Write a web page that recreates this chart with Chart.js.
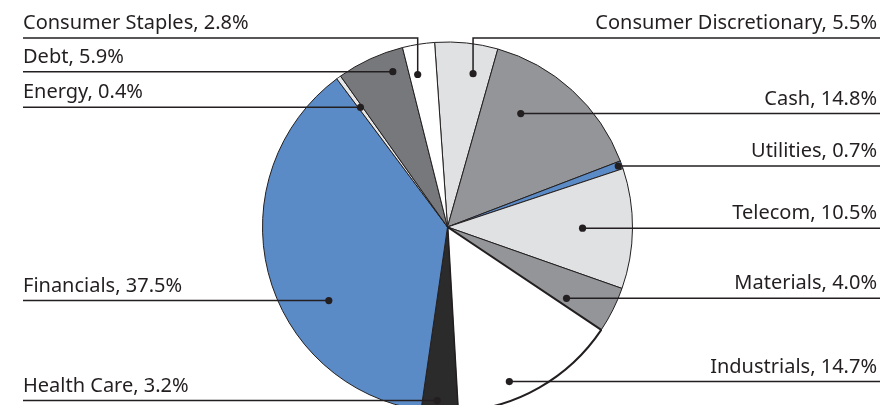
<!DOCTYPE html>
<html>
<head>
<meta charset="utf-8">
<script src="https://cdn.jsdelivr.net/npm/chart.js@4"></script>
<style>
  html, body { margin: 0; padding: 0; background: #ffffff; }
  #wrap { width: 883px; height: 405px; overflow: hidden; position: relative; }
  #c { display: block; }
</style>
</head>
<body>
<div id="wrap"><canvas id="c" width="883" height="420"></canvas></div>
<script>
// ---- data ----
const categories = ["Consumer Discretionary", "Cash", "Utilities", "Telecom", "Materials", "Industrials", "Health Care", "Financials", "Energy", "Debt", "Consumer Staples"];
const weights = [5.5, 14.8, 0.7, 10.5, 4.0, 14.7, 3.2, 37.5, 0.4, 5.9, 2.8];

// ---- styling ----
const sliceColors = ["#e0e1e3", "#939598", "#5b8bc7", "#e0e1e3", "#939598", "#ffffff", "#2c2b2c", "#5b8bc7", "#e6e7e8", "#77787b", "#ffffff"];
const sliceBorders = [1, 1, 1, 1, 1, 2, 1, 1, 1, 1, 1];
// label layout: side, relative angle inside slice (t), radius fraction (rf), optional elbow y for vertical leader
const labelSide = ["right", "right", "right", "right", "right", "right", "left", "left", "left", "left", "left"];
const dotT  = [0.68, 0.32, 0.5, 0.5, 0.8, 0.65, 0.58, 0.37, 0.5, 0.75, 0.3];
const dotRF = [0.84, 0.73, 0.98, 0.73, 0.75, 0.9, 0.94, 0.755, 0.8, 0.89, 0.84];
const elbowY = [38, null, null, null, null, null, null, null, null, null, 38];

const INK = "#231f20";
const FONT = '20px "Noto Sans"';
const LEFT_X = 23, RIGHT_X = 880;

const labelPlugin = {
  id: 'leaders',
  afterDatasetsDraw(chart) {
    const ctx = chart.ctx;
    const meta = chart.getDatasetMeta(0);
    ctx.save();
    ctx.strokeStyle = INK;
    ctx.fillStyle = INK;
    ctx.lineWidth = 1.5;
    ctx.font = FONT;
    meta.data.forEach((arc, i) => {
      const p = arc.getProps(['x', 'y', 'startAngle', 'endAngle', 'outerRadius'], true);
      const a = p.startAngle + dotT[i] * (p.endAngle - p.startAngle);
      const r = dotRF[i] * p.outerRadius;
      const dx = p.x + r * Math.cos(a);
      const dy = p.y + r * Math.sin(a);
      const ly = elbowY[i] != null ? elbowY[i] : dy;
      ctx.beginPath();
      if (labelSide[i] === 'left') {
        ctx.moveTo(LEFT_X, ly);
        ctx.lineTo(dx, ly);
      } else {
        ctx.moveTo(RIGHT_X, ly);
        ctx.lineTo(dx, ly);
      }
      if (elbowY[i] != null) ctx.lineTo(dx, dy);
      ctx.stroke();
      ctx.beginPath();
      ctx.arc(dx, dy, 3.6, 0, Math.PI * 2);
      ctx.fill();
      const txt = categories[i] + ", " + weights[i].toFixed(1) + "%";
      ctx.textBaseline = 'alphabetic';
      if (labelSide[i] === 'left') {
        ctx.textAlign = 'left';
        ctx.fillText(txt, LEFT_X, ly - 9);
      } else {
        ctx.textAlign = 'right';
        ctx.fillText(txt, RIGHT_X - 3, ly - 9);
      }
    });
    ctx.restore();
  }
};

new Chart(document.getElementById('c'), {
  type: 'pie',
  data: {
    labels: categories,
    datasets: [{
      data: weights,
      backgroundColor: sliceColors,
      borderColor: INK,
      borderWidth: sliceBorders,
      hoverOffset: 0
    }]
  },
  options: {
    responsive: false,
    animation: false,
    rotation: -4,
    layout: { padding: { top: 41, bottom: 7, left: 12, right: 0 } },
    plugins: { legend: { display: false }, tooltip: { enabled: false } },
    events: []
  },
  plugins: [labelPlugin]
});
</script>
</body>
</html>
